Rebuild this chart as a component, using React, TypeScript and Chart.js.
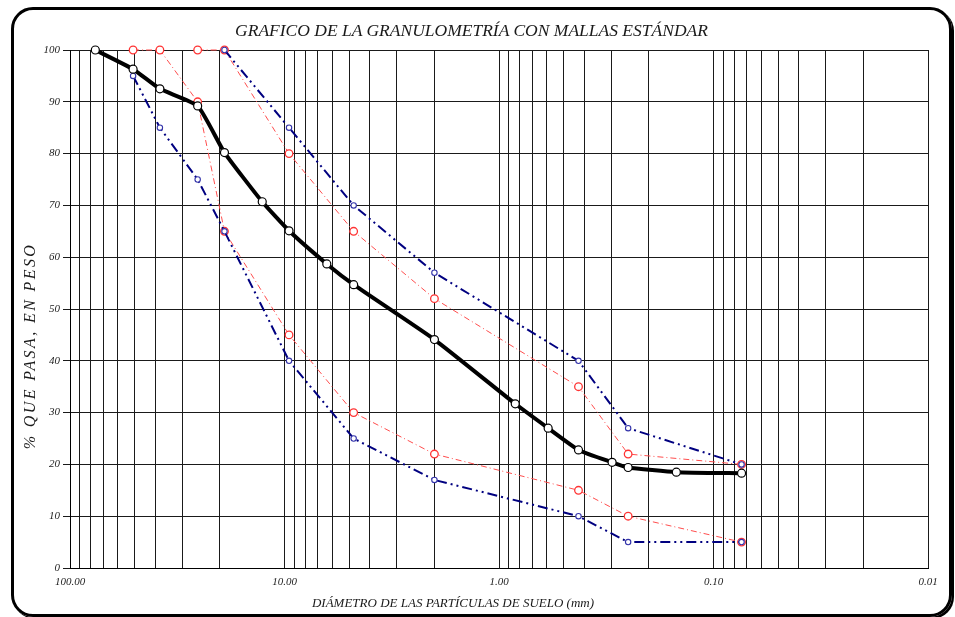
import React, { useEffect, useRef } from "react";
import { Chart, registerables } from "chart.js";

Chart.register(...registerables);

// Sieve openings (mm) and % passing of the tested sample
const sieveOpenings = [76.2, 50.8, 38.1, 25.4, 19.05, 12.7, 9.525, 6.35, 4.76, 2.0, 0.84, 0.59, 0.426, 0.297, 0.25, 0.149, 0.074];
const passingSample = [100, 96.3, 92.5, 89.2, 80.2, 70.7, 65.1, 58.7, 54.7, 44.1, 31.7, 27.0, 22.8, 20.4, 19.4, 18.5, 18.3];

// Specification band A (blue)
const bandALowerSizes = [50.8, 38.1, 25.4, 19.05, 9.525, 4.76, 2.0, 0.426, 0.25, 0.074];
const bandALowerPassing = [95, 85, 75, 65, 40, 25, 17, 10, 5, 5];
const bandAUpperSizes = [19.05, 9.525, 4.76, 2.0, 0.426, 0.25, 0.074];
const bandAUpperPassing = [100, 85, 70, 57, 40, 27, 20];

// Specification band B (red)
const bandBLowerSizes = [50.8, 38.1, 25.4, 19.05, 9.525, 4.76, 2.0, 0.426, 0.25, 0.074];
const bandBLowerPassing = [100, 100, 90, 65, 45, 30, 22, 15, 10, 5];
const bandBUpperSizes = [25.4, 19.05, 9.525, 4.76, 2.0, 0.426, 0.25, 0.074];
const bandBUpperPassing = [100, 100, 80, 65, 52, 35, 22, 20];

// Logarithmic grid lines (mm)
const gridDiameters = [
  0.01, 0.02, 0.03, 0.04, 0.05, 0.06, 0.07, 0.08, 0.09,
  0.1, 0.2, 0.3, 0.4, 0.5, 0.6, 0.7, 0.8, 0.9,
  1, 2, 3, 4, 5, 6, 7, 8, 9,
  10, 20, 30, 40, 50, 60, 70, 80, 90,
  100,
];
const labeledDiameters = [0.01, 0.1, 1, 10, 100];

const SERIF = "'Liberation Serif', 'Times New Roman', serif";

const toPoints = (xs: number[], ys: number[]) => xs.map((x, i) => ({ x, y: ys[i] }));

export default function App() {
  const canvasRef = useRef<HTMLCanvasElement | null>(null);

  useEffect(() => {
    const canvas = canvasRef.current;
    if (!canvas) return;

    const blueStyle = {
      borderColor: "#000080",
      borderWidth: 2,
      borderDash: [10, 4, 2, 4, 2, 4],
      pointRadius: 2.7,
      pointBorderWidth: 1.1,
      pointBorderColor: "#3333aa",
      pointBackgroundColor: "#ffffff",
      tension: 0,
      fill: false,
      clip: 12,
    };
    const redStyle = {
      borderColor: "#ff4d4d",
      borderWidth: 1,
      borderDash: [6, 3, 1, 3],
      pointRadius: 3.8,
      pointBorderWidth: 1.3,
      pointBorderColor: "#ff3333",
      pointBackgroundColor: "#ffffff",
      tension: 0,
      fill: false,
      clip: 12,
    };

    const chart = new Chart(canvas, {
      type: "line",
      data: {
        datasets: [
          {
            label: "Muestra",
            data: toPoints(sieveOpenings, passingSample),
            borderColor: "#000000",
            borderWidth: 4,
            pointRadius: 4,
            pointBorderWidth: 1.2,
            pointBorderColor: "#000000",
            pointBackgroundColor: "#ffffff",
            tension: 0.15,
            fill: false,
            clip: 12,
          },
          { label: "Huso A inferior", data: toPoints(bandALowerSizes, bandALowerPassing), ...blueStyle },
          { label: "Huso A superior", data: toPoints(bandAUpperSizes, bandAUpperPassing), ...blueStyle },
          { label: "Huso B inferior", data: toPoints(bandBLowerSizes, bandBLowerPassing), ...redStyle },
          { label: "Huso B superior", data: toPoints(bandBUpperSizes, bandBUpperPassing), ...redStyle },
        ],
      },
      options: {
        responsive: false,
        animation: false,
        layout: { padding: { left: 0, right: 27, top: 50, bottom: 0 } },
        plugins: {
          legend: { display: false },
          tooltip: { enabled: false },
          title: { display: false },
        },
        scales: {
          x: {
            type: "logarithmic",
            reverse: true,
            min: 0.01,
            max: 100,
            afterBuildTicks: (scale: any) => {
              scale.ticks = gridDiameters.map((v) => ({ value: v }));
            },
            afterFit: (scale: any) => {
              scale.height = 49;
            },
            grid: {
              color: "#1a1a1a",
              lineWidth: 1,
              drawTicks: false,
            },
            border: { display: true, color: "#000000", width: 1 },
            ticks: {
              autoSkip: false,
              maxRotation: 0,
              minRotation: 0,
              padding: 8,
              color: "#222222",
              font: { family: SERIF, size: 11, style: "italic" },
              callback: (value: any) => {
                const v = Number(value);
                return labeledDiameters.some((d) => Math.abs(d - v) < 1e-9) ? v.toFixed(2) : "";
              },
            },
          },
          y: {
            type: "linear",
            min: 0,
            max: 100,
            afterFit: (scale: any) => {
              scale.width = 70;
            },
            grid: {
              color: "#1a1a1a",
              lineWidth: 1,
              drawTicks: true,
              tickLength: 7,
              tickColor: "#1a1a1a",
            },
            border: { display: true, color: "#000000", width: 1 },
            ticks: {
              stepSize: 10,
              padding: 3,
              color: "#222222",
              font: { family: SERIF, size: 11, style: "italic" },
            },
          },
        },
      },
    } as any);

    return () => chart.destroy();
  }, []);

  const textBase: React.CSSProperties = {
    position: "absolute",
    fontFamily: SERIF,
    fontStyle: "italic",
    color: "#1a1a1a",
    whiteSpace: "nowrap",
  };

  return (
    <div
      style={{
        position: "fixed",
        left: 0,
        top: 0,
        width: 955,
        height: 617,
        background: "#ffffff",
        overflow: "hidden",
      }}
    >
      <canvas ref={canvasRef} width={955} height={617} style={{ position: "absolute", left: 0, top: 0, width: 955, height: 617 }} />
      <div
        style={{
          position: "absolute",
          left: 11,
          top: 7,
          width: 935,
          height: 604,
          border: "3px solid #000000",
          borderRadius: 22,
          boxShadow: "2px 2px 0 #000000",
          pointerEvents: "none",
        }}
      />
      <div style={{ ...textBase, left: 0, width: 943, top: 19, textAlign: "center", fontSize: 17.5, lineHeight: "22px" }}>
        GRAFICO DE LA GRANULOMETRÍA CON MALLAS ESTÁNDAR
      </div>
      <div style={{ ...textBase, left: 253, width: 400, top: 595, textAlign: "center", fontSize: 13, lineHeight: "16px" }}>
        DIÁMETRO DE LAS PARTÍCULAS DE SUELO (mm)
      </div>
      <div
        style={{
          ...textBase,
          left: 30,
          top: 346,
          width: 300,
          textAlign: "center",
          fontSize: 16,
          letterSpacing: 2.4,
          lineHeight: "18px",
          transform: "translate(-50%, -50%) rotate(-90deg)",
        }}
      >
        % QUE PASA, EN PESO
      </div>
    </div>
  );
}
